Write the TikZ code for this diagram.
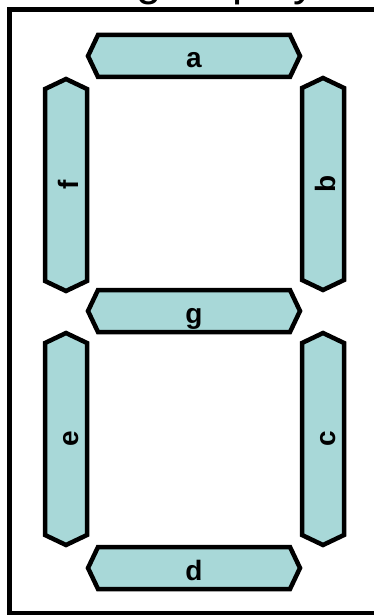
\documentclass[tikz,border=0pt]{standalone}
\usepackage{fontspec}
\usepackage{tikz}
\usetikzlibrary{positioning, calc}
\usepackage{xcolor}
\newfontfamily\segfont{Liberation Sans}
\definecolor{segfill}{RGB}{168,216,216}
\definecolor{framecol}{RGB}{0,0,0}

\begin{document}
\begin{tikzpicture}[x=1pt, y=-1pt,
    segline/.style={draw=black, fill=segfill, line width=4.5pt, line join=miter},
    seglabel/.style={font=\segfont\bfseries\fontsize{28}{28}\selectfont, inner sep=0pt,
      text height=24pt, text depth=0pt}]
  \useasboundingbox (0,0) rectangle (373,615);
  % title, mostly above the page
  \node[font=\segfont\fontsize{45.5}{45.5}\selectfont, anchor=base west, inner sep=0pt]
    (title) at (48,-4.5) {7-seg display};
  % frame
  \draw[framecol, line width=5pt] (395,9.5) -- (9.5,9.5) -- (9.5,613.5) -- (395,613.5);
  % segments
  \foreach \name/\cx/\cy/\rot in {a/194/56/0, g/194/311/0, d/194/568/0,
      f/66/185/90, b/323/184/90, e/66/439/90, c/323/439/90} {
    \draw[segline, rotate around={\rot:(\cx,\cy)}]
      (\cx-106,\cy) -- (\cx-96,\cy-21) -- (\cx+96,\cy-21)
      -- (\cx+106,\cy) -- (\cx+96,\cy+21) -- (\cx-96,\cy+21) -- cycle;
    \node[seglabel, rotate=\rot] (seg\name) at (\cx,\cy) {\name};
  }
\end{tikzpicture}
\end{document}
